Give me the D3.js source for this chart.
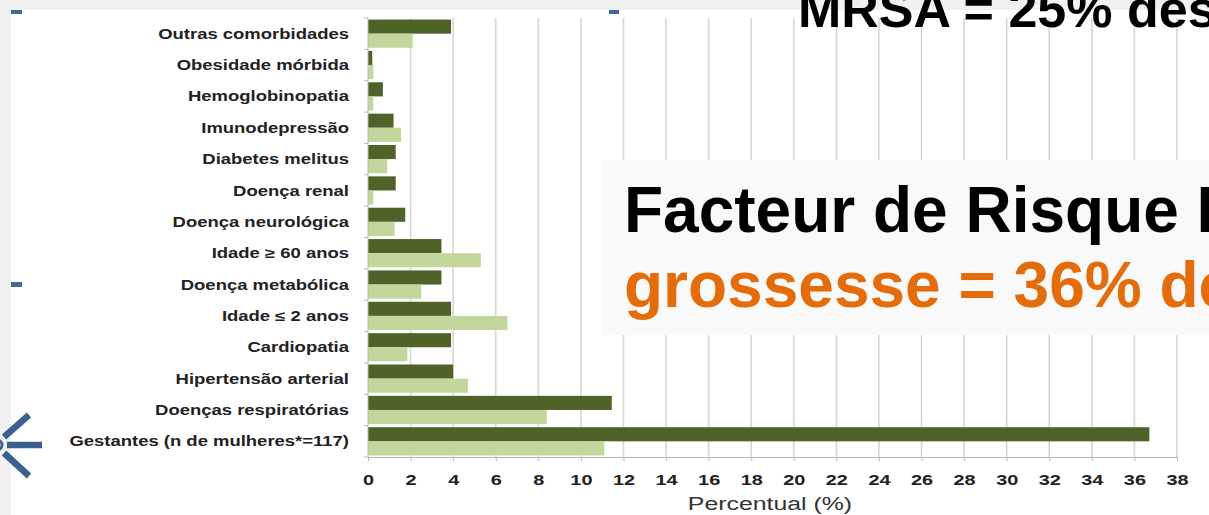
<!DOCTYPE html>
<html>
<head>
<meta charset="utf-8">
<script src="https://cdn.jsdelivr.net/npm/d3@7"></script>
<style>
  html, body { margin: 0; padding: 0; background: #f1f1f1; }
  svg { display: block; }
</style>
</head>
<body>
<script>
// comorbidades - barras horizontais, duas series

var categories = ["Outras comorbidades", "Obesidade mórbida", "Hemoglobinopatia", "Imunodepressão",
  "Diabetes melitus", "Doença renal", "Doença neurológica", "Idade ≥ 60 anos", "Doença metabólica",
  "Idade ≤ 2 anos", "Cardiopatia", "Hipertensão arterial", "Doenças respiratórias",
  "Gestantes (n de mulheres*=117)"];
var darkValues = [3.9, 0.2, 0.7, 1.2, 1.3, 1.3, 1.75, 3.45, 3.45, 3.9, 3.9, 4.0, 11.45, 36.7];
var lightValues = [2.1, 0.25, 0.25, 1.55, 0.9, 0.25, 1.25, 5.3, 2.5, 6.55, 1.85, 4.7, 8.4, 11.1];
var xTicks = [0, 2, 4, 6, 8, 10, 12, 14, 16, 18, 20, 22, 24, 26, 28, 30, 32, 34, 36, 38];
var seriesNames = ["dark", "light"];

var W = 1209, H = 515;
var svg = d3.select("body").append("svg").attr("width", W).attr("height", H);

// fundo branco do slide
svg.append("rect").attr("x", 11).attr("y", 10).attr("width", W - 11).attr("height", H - 10).attr("fill", "#ffffff");

var x = d3.scaleLinear().domain([0, 38]).range([368, 1177]);
var y = d3.scaleBand().domain(categories).range([18, 457]).paddingInner(0.1).paddingOuter(0.05);
var ySub = d3.scaleBand().domain(seriesNames).range([0, y.bandwidth()]);
var colors = { dark: "#4f6228", light: "#c3d69b" };

// linhas de grade
svg.append("g").selectAll("line")
  .data(xTicks.filter(function (d) { return d > 0; }))
  .enter().append("line")
  .attr("x1", function (d) { return x(d); })
  .attr("x2", function (d) { return x(d); })
  .attr("y1", 18).attr("y2", 457)
  .attr("stroke", "#d6d6d6").attr("stroke-width", 1.6);

// barras
var rows = categories.map(function (c, i) {
  return { cat: c, vals: [{ s: "dark", v: darkValues[i] }, { s: "light", v: lightValues[i] }] };
});
var groups = svg.append("g").selectAll("g")
  .data(rows).enter().append("g")
  .attr("transform", function (d) { return "translate(0," + y(d.cat) + ")"; });
groups.selectAll("rect")
  .data(function (d) { return d.vals; })
  .enter().append("rect")
  .attr("x", x(0))
  .attr("y", function (d) { return ySub(d.s); })
  .attr("width", function (d) { return x(d.v) - x(0); })
  .attr("height", ySub.bandwidth())
  .attr("fill", function (d) { return colors[d.s]; });

// eixo y
var yAxis = svg.append("g").attr("transform", "translate(" + x(0) + ",0)")
  .call(d3.axisLeft(y).tickSize(0).tickPadding(0));
yAxis.select(".domain").attr("stroke", "#b8b8b8").attr("d", "M0,18V457");
yAxis.selectAll("text")
  .attr("x", 0).attr("dy", "0.36em")
  .attr("transform", "translate(-19,0) scale(1.32,1)")
  .attr("font-family", "'Liberation Sans', Arial, sans-serif")
  .attr("font-weight", "bold").attr("font-size", 14).attr("fill", "#222");
var bounds = d3.range(categories.length + 1).map(function (i) { return 18 + i * (439 / categories.length); });
yAxis.selectAll("line.b").data(bounds).enter().append("line")
  .attr("x1", -4).attr("x2", 0)
  .attr("y1", function (d) { return d; }).attr("y2", function (d) { return d; })
  .attr("stroke", "#b8b8b8");

// eixo x
var xAxis = svg.append("g").attr("transform", "translate(0,457)")
  .call(d3.axisBottom(x).tickValues(xTicks).tickSize(4).tickPadding(10).tickSizeOuter(0));
xAxis.select(".domain").attr("stroke", "#b8b8b8");
xAxis.selectAll("line").attr("stroke", "#b8b8b8");
xAxis.selectAll("text")
  .attr("y", 0).attr("dy", 0)
  .attr("transform", "translate(0,28) scale(1.42,1)")
  .attr("font-family", "'Liberation Sans', Arial, sans-serif")
  .attr("font-weight", "bold").attr("font-size", 14).attr("fill", "#222");

svg.append("text")
  .attr("transform", "translate(770,510) scale(1.38,1)")
  .attr("text-anchor", "middle")
  .attr("font-family", "'Liberation Sans', Arial, sans-serif")
  .attr("font-size", 18).attr("fill", "#333")
  .text("Percentual (%)");

// marcas azuis do slide
var blue = "#41679b";
svg.append("rect").attr("x", 11).attr("y", 10).attr("width", 11).attr("height", 4).attr("fill", blue);
svg.append("rect").attr("x", 609).attr("y", 10).attr("width", 10).attr("height", 4).attr("fill", blue);
svg.append("rect").attr("x", 11).attr("y", 282).attr("width", 11).attr("height", 5).attr("fill", blue);

var icon = svg.append("g").attr("stroke", "#3b5f8f").attr("stroke-width", 6.5).attr("fill", "none");
icon.append("line").attr("x1", 29).attr("y1", 415).attr("x2", 4).attr("y2", 437);
icon.append("line").attr("x1", 7).attr("y1", 445).attr("x2", 42).attr("y2", 445);
icon.append("line").attr("x1", 4).attr("y1", 453).attr("x2", 29).attr("y2", 476);
icon.append("circle").attr("cx", -3).attr("cy", 445).attr("r", 5).attr("stroke-width", 3).attr("fill", "#fff");

// textos sobrepostos
svg.append("text").attr("x", 798).attr("y", 27)
  .attr("font-family", "'Liberation Sans', Arial, sans-serif")
  .attr("font-weight", "bold").attr("font-size", 52).attr("fill", "#000")
  .text("MRSA = 25% des");

svg.append("rect").attr("x", 602).attr("y", 160).attr("width", W - 602).attr("height", 175).attr("fill", "#f9f9f9");
svg.append("text").attr("x", 624).attr("y", 232)
  .attr("font-family", "'Liberation Sans', Arial, sans-serif")
  .attr("font-weight", "bold").attr("font-size", 64).attr("fill", "#000")
  .text("Facteur de Risque I");
svg.append("text").attr("x", 624).attr("y", 307)
  .attr("font-family", "'Liberation Sans', Arial, sans-serif")
  .attr("font-weight", "bold").attr("font-size", 64).attr("fill", "#e46c0a")
  .text("grossesse = 36% de");
</script>
</body>
</html>
